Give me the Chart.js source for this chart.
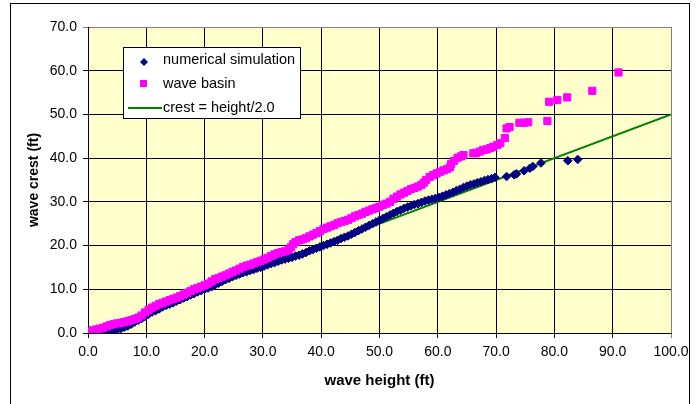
<!DOCTYPE html>
<html>
<head>
<meta charset="utf-8">
<script src="https://cdn.jsdelivr.net/npm/chart.js@4.4.1/dist/chart.umd.min.js"></script>
<style>
  html, body { margin: 0; padding: 0; background: #fff; }
</style>
</head>
<body>
<canvas id="myChart" width="699" height="404"></canvas>
<script>
// 수치해석 결과 (wave height, wave crest) - 그림에서 읽은 값
const simHeight = [0.2, 0.8, 1.4, 2.0, 2.6, 3.2, 3.8, 4.4, 5.0, 5.6, 6.2, 6.8, 7.4, 8.0, 8.6, 9.2, 9.8, 10.4, 11.0, 11.6,
  12.2, 12.8, 13.4, 14.0, 14.6, 15.2, 15.8, 16.4, 17.0, 17.6, 18.2, 18.8, 19.4, 20.0, 20.6, 21.2, 21.8, 22.4, 23.0, 23.6,
  24.2, 24.8, 25.4, 26.0, 26.6, 27.2, 27.8, 28.4, 29.0, 29.6, 30.2, 30.8, 31.4, 32.0, 32.6, 33.2, 33.8, 34.4, 35.0, 35.6,
  36.2, 36.8, 37.4, 38.0, 38.6, 39.2, 39.8, 40.4, 41.0, 41.6, 42.2, 42.8, 43.4, 44.0, 44.6, 45.2, 45.8, 46.4, 47.0, 47.6,
  48.2, 48.8, 49.4, 50.0, 50.6, 51.2, 51.8, 52.4, 53.0, 53.6, 54.2, 54.8, 55.4, 56.0, 56.6, 57.2, 57.8, 58.4, 59.0, 59.6,
  60.2, 60.8, 61.4, 62.0, 62.6, 63.2, 63.8, 64.4, 65.0, 65.6, 66.2, 66.8, 67.4, 68.0, 68.6, 69.2, 69.8, 71.8, 73.1, 73.5,
  74.8, 75.8, 76.3, 77.7, 82.3, 84.0];
const simCrest = [0.0, 0.0, 0.1, 0.1, 0.2, 0.2, 0.3, 0.6, 0.8, 1.0, 1.3, 1.6, 2.0, 2.5, 2.9, 3.3, 3.8, 4.3, 4.8, 5.1,
  5.5, 6.0, 6.3, 6.6, 6.9, 7.3, 7.6, 8.0, 8.3, 8.7, 9.0, 9.4, 9.7, 10.0, 10.3, 10.6, 11.0, 11.4, 11.8, 12.2,
  12.5, 12.9, 13.2, 13.5, 13.8, 14.0, 14.3, 14.5, 14.8, 15.0, 15.3, 15.6, 15.9, 16.1, 16.4, 16.7, 16.9, 17.1, 17.3, 17.6,
  17.8, 18.1, 18.4, 18.8, 19.1, 19.4, 19.7, 20.0, 20.3, 20.6, 20.9, 21.2, 21.6, 21.9, 22.2, 22.6, 23.0, 23.4, 23.8, 24.2,
  24.6, 25.0, 25.4, 25.8, 26.2, 26.6, 27.0, 27.4, 27.8, 28.1, 28.5, 28.8, 29.1, 29.4, 29.6, 29.9, 30.2, 30.4, 30.6, 30.8,
  31.0, 31.3, 31.6, 31.9, 32.2, 32.6, 32.9, 33.3, 33.6, 33.9, 34.1, 34.4, 34.6, 34.9, 35.1, 35.3, 35.6, 35.8, 36.2, 36.4,
  37.1, 37.7, 38.1, 38.9, 39.4, 39.7];

// 수조 실험 결과
const basinHeight = [0.2, 0.8, 1.4, 2.0, 2.6, 3.2, 3.8, 4.4, 5.0, 5.6, 6.2, 6.8, 7.4, 8.0, 8.6, 9.2, 9.8, 10.4, 11.0, 11.6,
  12.2, 12.8, 13.4, 14.0, 14.6, 15.2, 15.8, 16.4, 17.0, 17.6, 18.2, 18.8, 19.4, 20.0, 20.6, 21.2, 21.8, 22.4, 23.0, 23.6,
  24.2, 24.8, 25.4, 26.0, 26.6, 27.2, 27.8, 28.4, 29.0, 29.6, 30.2, 30.8, 31.4, 32.0, 32.6, 33.2, 33.8, 34.4, 34.8, 35.2,
  35.6, 36.2, 36.8, 37.4, 38.0, 38.6, 39.2, 39.8, 40.4, 41.0, 41.6, 42.2, 42.8, 43.4, 44.0, 44.6, 45.2, 45.8, 46.4, 47.0,
  47.6, 48.2, 48.8, 49.4, 50.0, 50.6, 51.2, 51.8, 52.4, 53.0, 53.6, 54.2, 54.8, 55.4, 56.0, 56.6, 57.2, 57.6, 58.0, 58.6,
  59.2, 59.8, 60.4, 61.0, 61.6, 62.1, 62.3, 62.8, 63.4, 64.0, 64.4, 66.1, 66.6, 67.2, 67.8, 68.4, 69.0, 69.5, 70.2, 70.7,
  71.5, 71.8, 72.3, 74.0, 74.8, 75.5, 78.8, 79.1, 80.5, 82.2, 86.5, 91.0];
const basinCrest = [0.3, 0.6, 0.8, 1.0, 1.2, 1.5, 1.8, 2.0, 2.2, 2.3, 2.5, 2.7, 2.9, 3.2, 3.5, 4.0, 4.7, 5.3, 5.8, 6.2,
  6.6, 6.9, 7.2, 7.5, 7.8, 8.1, 8.4, 8.8, 9.2, 9.6, 10.0, 10.3, 10.6, 10.9, 11.3, 11.8, 12.3, 12.6, 12.9, 13.2,
  13.6, 14.0, 14.3, 14.7, 15.1, 15.4, 15.6, 15.9, 16.2, 16.5, 16.8, 17.2, 17.6, 18.0, 18.3, 18.5, 18.7, 19.0, 19.6, 20.3,
  20.8, 21.2, 21.4, 21.7, 22.1, 22.5, 22.9, 23.3, 23.8, 24.1, 24.4, 24.7, 25.1, 25.4, 25.6, 25.9, 26.3, 26.7, 27.0, 27.3,
  27.7, 28.0, 28.3, 28.6, 28.9, 29.3, 29.6, 30.0, 30.7, 31.2, 31.7, 32.1, 32.5, 32.9, 33.2, 33.5, 33.9, 34.4, 35.0, 35.7,
  36.1, 36.5, 36.9, 37.2, 37.5, 37.9, 38.7, 39.4, 40.1, 40.4, 40.7, 41.1, 41.2, 41.5, 41.9, 42.0, 42.3, 42.6, 43.0, 43.4,
  44.6, 46.8, 47.1, 48.1, 48.1, 48.2, 48.5, 52.9, 53.3, 53.9, 55.4, 59.6];

// crest = height/2.0 기준선
const refHeight = [0, 100];
const refCrest = [0, 50];

// 축 눈금
const xTicks = [0, 10, 20, 30, 40, 50, 60, 70, 80, 90, 100];
const yTicks = [0, 10, 20, 30, 40, 50, 60, 70];

const legendLabels = ['numerical simulation', 'wave basin', 'crest = height/2.0'];

const FONT = '"Liberation Sans", Arial, sans-serif';

function toPoints(xs, ys) {
  return xs.map((x, i) => ({ x: x, y: ys[i] }));
}

// 배경, 외곽선, 범례
const decor = {
  id: 'decor',
  beforeDraw(chart) {
    const { ctx, chartArea } = chart;
    ctx.save();
    ctx.fillStyle = '#fff';
    ctx.fillRect(0, 0, chart.width, chart.height);
    ctx.fillStyle = '#FFFFCC';
    ctx.fillRect(chartArea.left, chartArea.top, chartArea.right - chartArea.left, chartArea.bottom - chartArea.top);
    ctx.strokeStyle = '#000';
    ctx.lineWidth = 1;
    ctx.strokeRect(10.5, 3.5, 679, 430);
    ctx.restore();
  },
  afterDraw(chart) {
    const ctx = chart.ctx;
    const bx = 123, by = 47;
    ctx.save();
    ctx.fillStyle = '#fff';
    ctx.fillRect(bx, by, 177, 71);
    ctx.strokeStyle = '#000';
    ctx.lineWidth = 1;
    ctx.strokeRect(bx + 0.5, by + 0.5, 177, 71);

    // 마커
    ctx.fillStyle = '#000080';
    ctx.beginPath();
    ctx.moveTo(144, 58); ctx.lineTo(148, 62); ctx.lineTo(144, 66); ctx.lineTo(140, 62);
    ctx.closePath();
    ctx.fill();
    ctx.fillStyle = '#FF00FF';
    ctx.fillRect(140, 80, 7, 7);
    ctx.strokeStyle = '#008000';
    ctx.lineWidth = 2;
    ctx.beginPath();
    ctx.moveTo(128, 108); ctx.lineTo(162, 108);
    ctx.stroke();

    ctx.fillStyle = '#000';
    ctx.font = '14.5px ' + FONT;
    ctx.textBaseline = 'middle';
    ctx.fillText(legendLabels[0], 163, 60);
    ctx.fillText(legendLabels[1], 163, 84);
    ctx.fillText(legendLabels[2], 163, 108);
    ctx.restore();
  }
};

const ctx = document.getElementById('myChart').getContext('2d');
const myChart = new Chart(ctx, {
  type: 'scatter',
  data: {
    datasets: [{
      label: legendLabels[0],
      data: toPoints(simHeight, simCrest),
      pointStyle: 'rectRot',
      pointRadius: 4.3,
      borderWidth: 1,
      backgroundColor: '#000080',
      borderColor: '#000080',
      order: 1
    }, {
      label: legendLabels[1],
      data: toPoints(basinHeight, basinCrest),
      pointStyle: 'rect',
      pointRadius: 5.1,
      borderWidth: 1,
      backgroundColor: '#FF00FF',
      borderColor: '#FF00FF',
      order: 0
    }, {
      label: legendLabels[2],
      data: toPoints(refHeight, refCrest),
      showLine: true,
      pointRadius: 0,
      borderColor: '#008000',
      borderWidth: 2,
      order: 2
    }]
  },
  options: {
    responsive: false,
    animation: false,
    devicePixelRatio: 1,
    layout: {
      padding: { left: 0, top: 27, right: 28, bottom: 0 }
    },
    scales: {
      x: {
        type: 'linear',
        min: 0,
        max: 100,
        afterBuildTicks: (axis) => { axis.ticks = xTicks.map(v => ({ value: v })); },
        afterFit: (axis) => { axis.height = 71; },
        ticks: {
          callback: (v) => v.toFixed(1),
          color: '#000',
          padding: 6,
          maxRotation: 0,
          font: { family: FONT, size: 14 }
        },
        grid: {
          color: (c) => c.tick && c.tick.value === 100 ? '#808080' : '#000',
          tickLength: 5,
          lineWidth: 1
        },
        border: { color: '#000', width: 1 },
        title: {
          display: true,
          text: 'wave height (ft)',
          color: '#000',
          font: { family: FONT, size: 15, weight: 'bold' },
          padding: { top: 0, bottom: 14 }
        }
      },
      y: {
        type: 'linear',
        min: 0,
        max: 70,
        afterBuildTicks: (axis) => { axis.ticks = yTicks.map(v => ({ value: v })); },
        afterFit: (axis) => { axis.width = 88; },
        ticks: {
          callback: (v) => v.toFixed(1),
          color: '#000',
          padding: 6,
          font: { family: FONT, size: 14 }
        },
        grid: {
          color: (c) => c.tick && c.tick.value === 70 ? '#808080' : '#000',
          tickLength: 5,
          lineWidth: 1
        },
        border: { color: '#000', width: 1 },
        title: {
          display: true,
          text: 'wave crest (ft)',
          color: '#000',
          font: { family: FONT, size: 14, weight: 'bold' },
          padding: { top: 26, bottom: 0 }
        }
      }
    },
    plugins: {
      legend: { display: false },
      tooltip: { enabled: false }
    }
  },
  plugins: [decor]
});
</script>
</body>
</html>
